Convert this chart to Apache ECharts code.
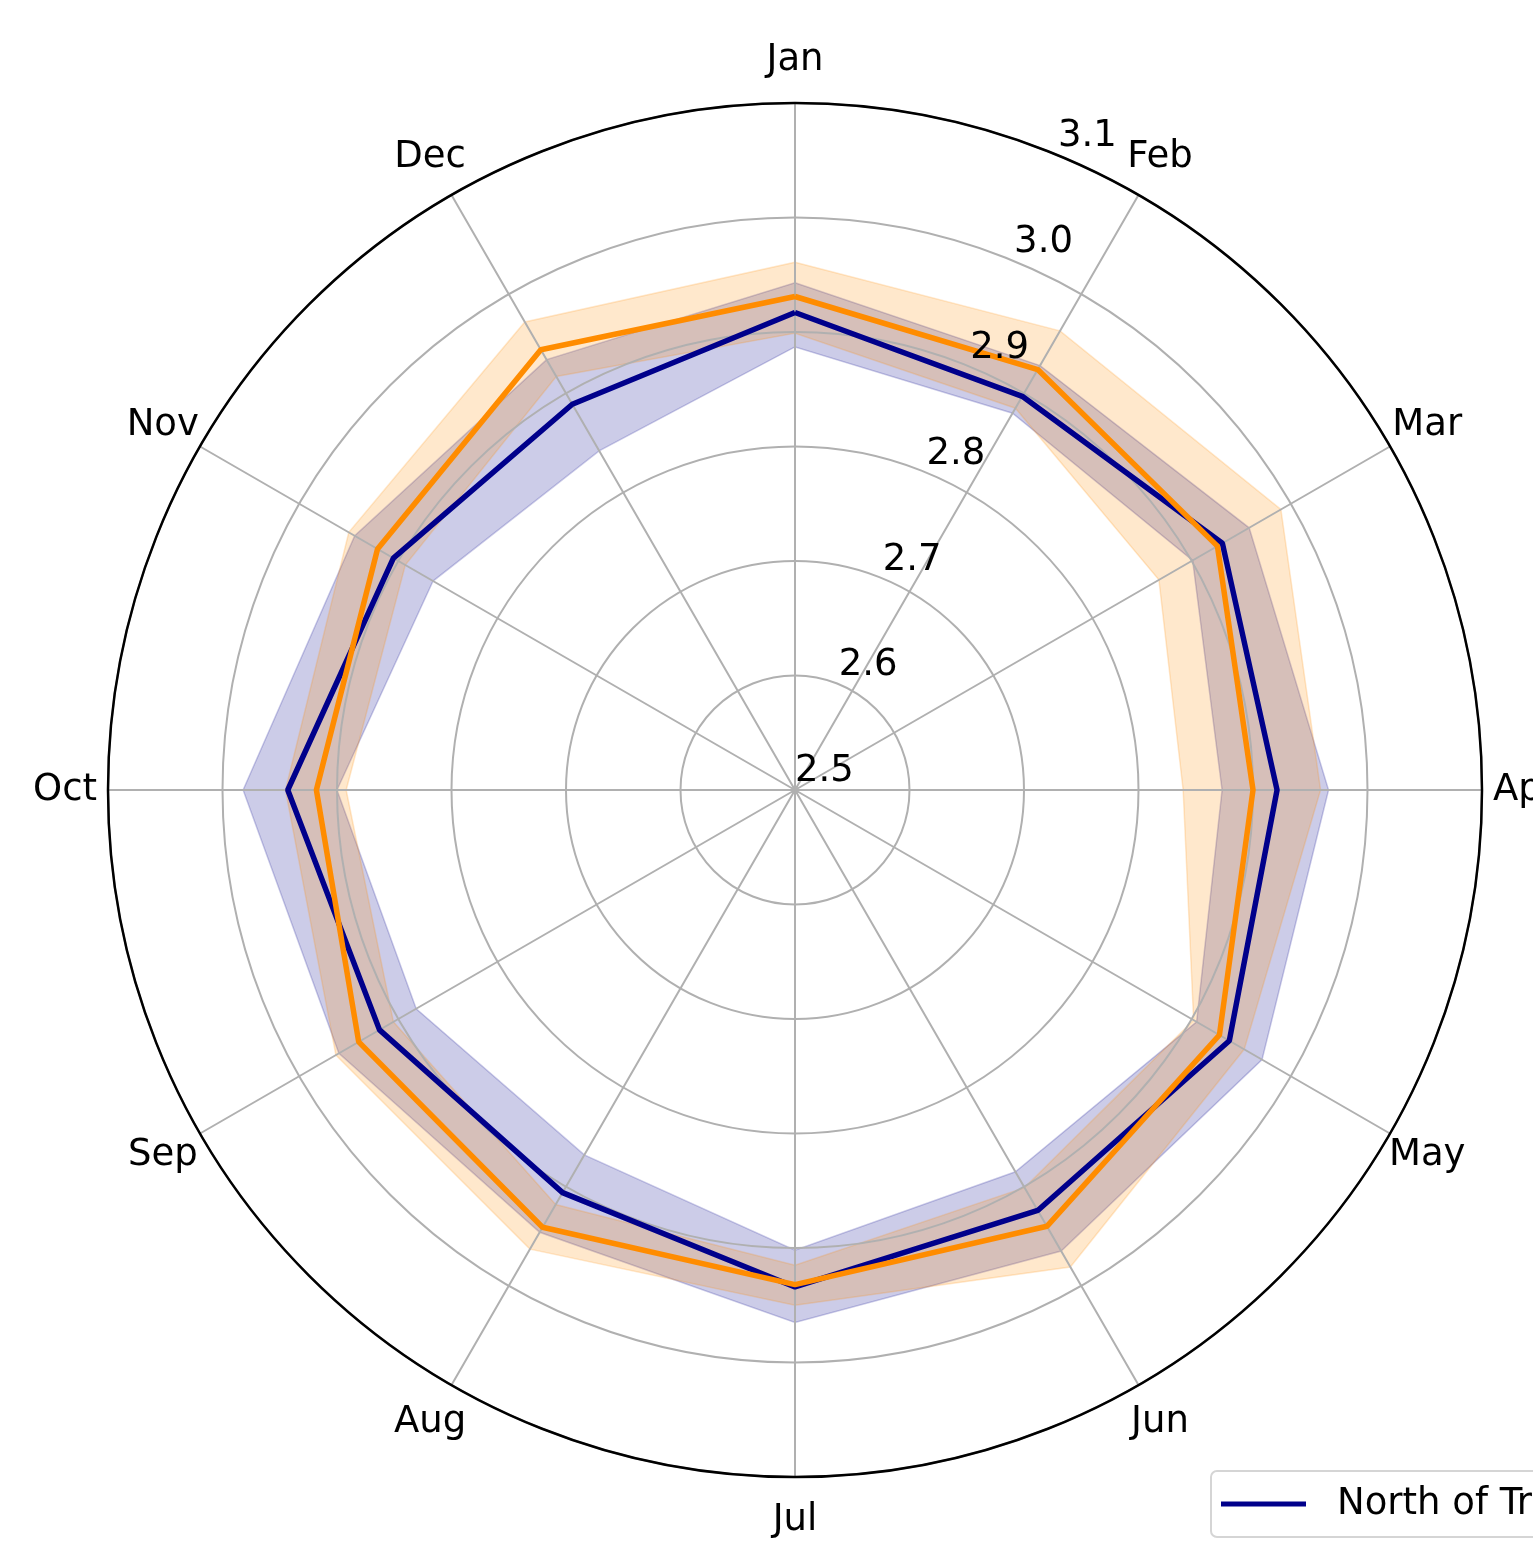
<!DOCTYPE html>
<html>
<head>
<meta charset="utf-8">
<script src="https://cdn.jsdelivr.net/npm/echarts@6/dist/echarts.min.js"></script>
<style>
  html, body { margin: 0; padding: 0; background: #fff; }
  #chart { width: 1533px; height: 1545px; }
</style>
</head>
<body>
<div id="chart"></div>
<script>
const months = ['Jan', 'Feb', 'Mar', 'Apr', 'May', 'Jun', 'Jul', 'Aug', 'Sep', 'Oct', 'Nov', 'Dec']

// North group (navy)
const northMean = [2.917, 2.897, 2.931, 2.921, 2.938, 2.924, 2.934, 2.906, 2.919, 2.943, 2.905, 2.889]
const northLow = [2.887, 2.880, 2.901, 2.873, 2.905, 2.885, 2.902, 2.868, 2.882, 2.900, 2.865, 2.842]
const northHigh = [2.943, 2.928, 2.958, 2.966, 2.971, 2.965, 2.965, 2.946, 2.960, 2.982, 2.944, 2.934]

// South group (orange)
const southMean = [2.931, 2.924, 2.926, 2.900, 2.928, 2.940, 2.932, 2.941, 2.940, 2.918, 2.921, 2.944]
const southLow = [2.899, 2.885, 2.867, 2.839, 2.902, 2.901, 2.915, 2.918, 2.905, 2.892, 2.893, 2.917]
const southHigh = [2.961, 2.963, 2.990, 2.959, 2.953, 2.981, 2.950, 2.963, 2.963, 2.945, 2.950, 2.972]

const radiusMin = 2.5
const radiusMax = 3.1
const radiusStep = 0.1

const FONT = 'DejaVu Sans'
const FONT_SIZE = 37
const center = [795, 790]
const outerR = 687
const monthLabelPad = 43

// month i sits at angle value i, the loop closes at value 12 (= Jan again)
function closedLine(values) {
  const pts = values.map((v, i) => [v, i])
  pts.push([values[0], values.length])
  return pts
}

function bandSeries(low, high, color) {
  return {
    type: 'custom',
    coordinateSystem: 'polar',
    polarIndex: 0,
    silent: true,
    z: 1,
    data: [[high[0], 0]],
    renderItem(params, api) {
      const n = high.length
      const pts = []
      for (let i = 0; i < n; i++) pts.push(api.coord([high[i], i]))
      pts.push(api.coord([high[0], n]))
      pts.push(api.coord([low[0], n]))
      for (let i = n - 1; i >= 0; i--) pts.push(api.coord([low[i], i]))
      return {
        type: 'polygon',
        shape: { points: pts },
        style: { fill: color, stroke: color, lineWidth: 1.5 },
      }
    },
  }
}

const chart = echarts.init(document.getElementById('chart'))

const option = {
  backgroundColor: '#fff',
  animation: false,
  polar: [
    { center: center, radius: outerR },
    { center: center, radius: outerR },
  ],
  angleAxis: [
    {
      polarIndex: 0,
      type: 'value',
      min: 0,
      max: months.length,
      interval: 1,
      startAngle: 90,
      clockwise: true,
      axisLine: { lineStyle: { color: '#000', width: 2.5 } },
      axisTick: { show: false },
      axisLabel: { show: false },
      splitLine: { show: true, lineStyle: { color: '#b0b0b0', width: 2 } },
      z: 2,
    },
    {
      polarIndex: 1,
      type: 'value',
      min: 0,
      max: 360,
      startAngle: 67.5,
      show: false,
    },
  ],
  radiusAxis: [
    {
      polarIndex: 0,
      type: 'value',
      min: radiusMin,
      max: radiusMax,
      interval: radiusStep,
      axisLine: { show: false },
      axisTick: { show: false },
      axisLabel: { show: false },
      splitLine: { show: true, lineStyle: { color: '#b0b0b0', width: 2 } },
      z: 2,
    },
    {
      polarIndex: 1,
      type: 'value',
      min: radiusMin,
      max: radiusMax,
      interval: radiusStep,
      axisLine: { show: false },
      axisTick: { show: false },
      splitLine: { show: false },
      axisLabel: {
        color: '#000',
        fontSize: FONT_SIZE,
        fontFamily: FONT,
        margin: 0,
        align: 'left',
        verticalAlign: 'bottom',
        formatter: (v) => v.toFixed(1),
      },
      z: 10,
    },
  ],
  legend: {
    left: 1211,
    top: 1471,
    orient: 'vertical',
    padding: [13, 10],
    itemGap: 20,
    itemWidth: 85,
    itemHeight: 5,
    icon: 'rect',
    backgroundColor: '#fff',
    borderColor: '#d5d5d5',
    borderWidth: 2,
    borderRadius: 6,
    textStyle: {
      color: '#000',
      fontSize: FONT_SIZE,
      fontFamily: FONT,
      lineHeight: 40,
      padding: [0, 0, 0, 26],
    },
    data: ['North of Tropic', 'South of Tropic'],
  },
  series: [
    bandSeries(northLow, northHigh, 'rgba(0,0,139,0.2)'),
    {
      name: 'North of Tropic',
      type: 'line',
      coordinateSystem: 'polar',
      polarIndex: 0,
      data: closedLine(northMean),
      showSymbol: false,
      symbol: 'none',
      color: '#00008b',
      lineStyle: { color: '#00008b', width: 5.5 },
      z: 3,
    },
    bandSeries(southLow, southHigh, 'rgba(255,140,0,0.2)'),
    {
      name: 'South of Tropic',
      type: 'line',
      coordinateSystem: 'polar',
      polarIndex: 0,
      data: closedLine(southMean),
      showSymbol: false,
      symbol: 'none',
      color: '#ff8c00',
      lineStyle: { color: '#ff8c00', width: 5.5 },
      z: 4,
    },
    {
      // month names, centred just outside the outer ring
      type: 'custom',
      coordinateSystem: 'polar',
      polarIndex: 0,
      silent: true,
      z: 10,
      data: months.map((m, i) => [radiusMax, i]),
      renderItem(params, api) {
        const i = api.value(1)
        const p = api.coord([api.value(0), i])
        const cs = params.coordSys
        const dx = p[0] - cs.cx
        const dy = p[1] - cs.cy
        const len = Math.sqrt(dx * dx + dy * dy) || 1
        return {
          type: 'text',
          x: p[0] + (dx / len) * monthLabelPad,
          y: p[1] + (dy / len) * monthLabelPad,
          style: {
            text: months[i],
            fill: '#000',
            fontSize: FONT_SIZE,
            fontFamily: FONT,
            align: 'center',
            verticalAlign: 'middle',
          },
        }
      },
    },
  ],
}

chart.setOption(option)
</script>
</body>
</html>
